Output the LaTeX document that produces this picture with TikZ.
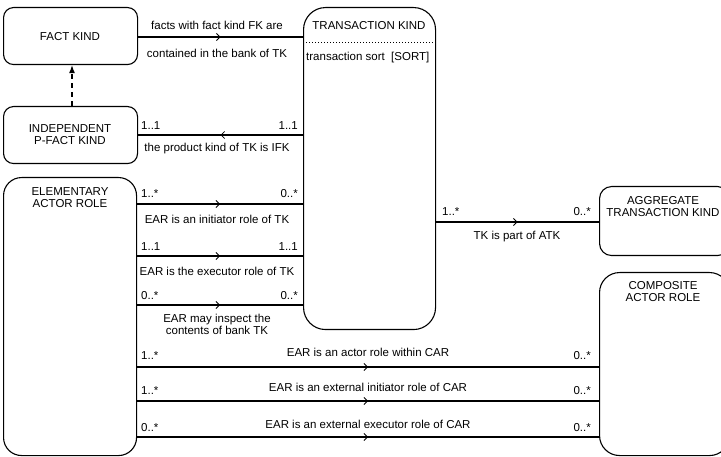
\documentclass[tikz,border=0pt]{standalone}
\usepackage{fontspec}
\setmainfont{Liberation Sans}
\usetikzlibrary{arrows.meta,decorations.markings}
\begin{document}
\begin{tikzpicture}[x=1pt,y=-1pt,
  box/.style={draw,line width=1.1pt,anchor=north west,inner sep=0pt},
  txt/.style={font=\fontsize{11.5}{13}\selectfont,inner sep=0pt,align=center},
  mult/.style={font=\fontsize{11.5}{13}\selectfont,inner sep=0pt},
  rel/.style={line width=1.1pt,postaction={decorate,decoration={markings,
     mark=at position 0.5 with {\arrow[line width=0.8pt]{Straight Barb[length=3.5pt,width=7pt]}}}}},
  ]
\useasboundingbox (0,0) rectangle (721,457);
\clip (0,0) rectangle (721,457);
% boxes
\node[box,rounded corners=10pt,minimum width=134pt,minimum height=57pt] (fk) at (3,7) {};
\node[box,rounded corners=10pt,minimum width=134pt,minimum height=57pt] (ipfk) at (3,106) {};
\node[box,rounded corners=18pt,minimum width=133pt,minimum height=278pt] (ear) at (3,177) {};
\node[box,rounded corners=22pt,minimum width=132pt,minimum height=322pt] (tk) at (303,7) {};
\node[box,rounded corners=12pt,minimum width=130pt,minimum height=69pt] (atk) at (599,186) {};
\node[box,rounded corners=20pt,minimum width=130pt,minimum height=183pt] (car) at (599,272) {};
% box texts
\node[txt] (fkt) at (70,37) {FACT KIND};
\node[txt] (ipfkt) at (70,135) {INDEPENDENT\\[-1pt]P-FACT KIND};
\node[txt] (eart) at (70,198) {ELEMENTARY\\[-1pt]ACTOR ROLE};
\node[txt] (tkt) at (369,26) {TRANSACTION KIND};
\draw[line width=1pt,dotted] (tk.west |- 0,43) coordinate (dl) -- (tk.east |- 0,43) coordinate (dr);
\node[txt,anchor=west] (tks) at (306,58) {transaction sort\ \ [SORT]};
\node[txt] (atkt) at (663,207) {AGGREGATE\\[-1pt]TRANSACTION KIND};
\node[txt] (cart) at (663,292) {COMPOSITE\\[-1pt]ACTOR ROLE};
% FK - TK
\draw[rel] (fk.east |- 0,37) -- (tk.west |- 0,37);
\node[txt] (l1a) at (217,25) {facts with fact kind FK are};
\node[txt] (l1b) at (217,53) {contained in the bank of TK};
% IPFK -> FK dashed
\draw[line width=1.3pt,dashed,dash pattern=on 5pt off 4pt,-{Latex[length=8pt,width=6pt]}] (ipfk.north -| 72,0) -- (fk.south -| 72,0);
% TK - IPFK
\draw[rel] (tk.west |- 0,135) -- (ipfk.east |- 0,135);
\node[mult,anchor=west] (m2a) at (141,126) {1..1};
\node[mult,anchor=east] (m2b) at (298,126) {1..1};
\node[txt] (l2) at (217,149) {the product kind of TK is IFK};
% EAR - TK
\draw[rel] (ear.east |- 0,204) -- (tk.west |- 0,204);
\node[mult,anchor=west] (m3a) at (141,194) {1..*};
\node[mult,anchor=east] (m3b) at (298,194) {0..*};
\node[txt] (l3) at (217,219) {EAR is an initiator role of TK};
\draw[rel] (ear.east |- 0,256) -- (tk.west |- 0,256);
\node[mult,anchor=west] (m4a) at (141,247) {1..1};
\node[mult,anchor=east] (m4b) at (298,247) {1..1};
\node[txt] (l4) at (217,271) {EAR is the executor role of TK};
\draw[rel] (ear.east |- 0,305) -- (tk.west |- 0,305);
\node[mult,anchor=west] (m5a) at (141,296) {0..*};
\node[mult,anchor=east] (m5b) at (298,296) {0..*};
\node[txt] (l5) at (217,324) {EAR may inspect the\\[-1pt]contents of bank TK};
% TK - ATK
\draw[rel] (tk.east |- 0,222) -- (atk.west |- 0,222);
\node[mult,anchor=west] (m6a) at (442,212) {1..*};
\node[mult,anchor=east] (m6b) at (591,212) {0..*};
\node[txt] (l6) at (517,237) {TK is part of ATK};
% EAR - CAR
\draw[rel] (ear.east |- 0,367) -- (car.west |- 0,367);
\node[mult,anchor=west] (m7a) at (141,356) {1..*};
\node[mult,anchor=east] (m7b) at (591,356) {0..*};
\node[txt] (l7) at (368,352) {EAR is an actor role within CAR};
\draw[rel] (ear.east |- 0,401) -- (car.west |- 0,401);
\node[mult,anchor=west] (m8a) at (141,391) {1..*};
\node[mult,anchor=east] (m8b) at (591,391) {0..*};
\node[txt] (l8) at (368,387) {EAR is an external initiator role of CAR};
\draw[rel] (ear.east |- 0,437) -- (car.west |- 0,437);
\node[mult,anchor=west] (m9a) at (141,428) {0..*};
\node[mult,anchor=east] (m9b) at (591,428) {0..*};
\node[txt] (l9) at (368,424) {EAR is an external executor role of CAR};
\end{tikzpicture}
\end{document}
